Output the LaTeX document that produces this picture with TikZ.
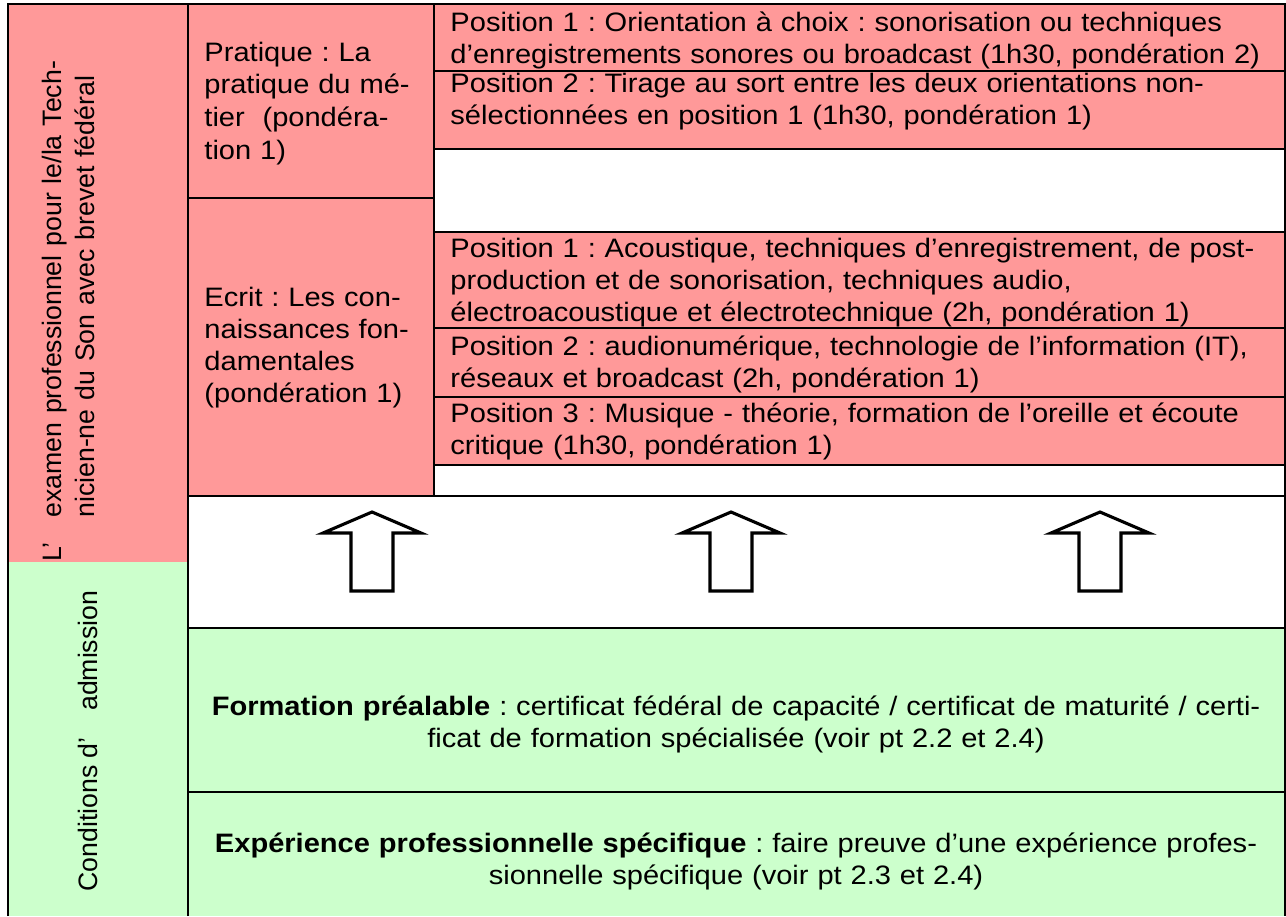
\documentclass[tikz,border=0pt]{standalone}
\usepackage{fontspec}
\setmainfont{Liberation Sans}[FakeStretch=1.09]
\newfontfamily\sidefont{Liberation Sans}
\definecolor{examred}{HTML}{FF9999}
\definecolor{admgreen}{HTML}{CCFFCC}
\frenchspacing
\begin{document}
\begin{tikzpicture}[x=0.45pt,y=-0.45pt,
  font=\fontsize{12}{14.4}\selectfont,
  frame/.style={line width=0.6pt},
  redcell/.style={frame,fill=examred},
  greencell/.style={frame,fill=admgreen},
  rowtext/.style={anchor=base west,inner sep=0pt,align=left,text width=390pt},
  bigarrow/.style={line width=1.4pt,fill=white,miter limit=10}]
\useasboundingbox (0,0) rectangle (1286,916);
% left column
\fill[examred] (8,4) rectangle (188,562);
\fill[admgreen] (8,562) rectangle (188,916);
\draw[frame] (8,916) -- (8,4) -- (188,4);
\draw[frame] (188,4) -- (188,916);
% middle column
\draw[redcell] (188,4) rectangle (434,198);
\draw[redcell] (188,198) rectangle (434,496);
% right column
\draw[redcell] (434,4) rectangle (1285,71);
\draw[redcell] (434,71) rectangle (1285,149);
\draw[frame] (434,149) rectangle (1285,232);
\draw[redcell] (434,232) rectangle (1285,328);
\draw[redcell] (434,328) rectangle (1285,397);
\draw[redcell] (434,397) rectangle (1285,465);
\draw[frame] (434,465) rectangle (1285,496);
% lower part
\draw[frame] (188,496) rectangle (1285,628);
\draw[greencell] (188,628) rectangle (1285,792);
\fill[admgreen] (188,792) rectangle (1285,916);
\draw[frame] (188,916) -- (188,792) -- (1285,792) -- (1285,916);
% arrows
\foreach \cx in {372,731,1100}
  \draw[bigarrow] (\cx,512) -- (\cx+49,533) -- (\cx+21,533) -- (\cx+21,591)
    -- (\cx-21,591) -- (\cx-21,533) -- (\cx-49,533) -- cycle;
% texts
\node[rowtext,rotate=90,text width=270pt,font=\sidefont\fontsize{12}{15}\selectfont] (exam) at (61,562)
  {\makebox[19.8pt][l]{L’}examen professionnel pour le/la Tech-\\\hspace*{19.8pt}nicien-ne du Son avec brevet fédéral};
\node[anchor=base west,inner sep=0pt,rotate=90,font=\sidefont\fontsize{12}{14.4}\selectfont] (admission) at (97,892)
  {Conditions d’\hspace{12pt}admission};
\node[rowtext,text width=110pt,font=\fontsize{12}{14.8}\selectfont] (pratique) at (204,61)
  {Pratique : La\\pratique du mé-\\tier~ (pondéra-\\tion 1)};
\node[rowtext,text width=110pt] (ecrit) at (204,306)
  {Ecrit : Les con-\\naissances fon-\\damentales\\(pondération 1)};
\node[rowtext] (prat1) at (450,31)
  {Position 1 : Orientation à choix : sonorisation ou techniques\\d’enregistrements sonores ou broadcast (1h30, pondération 2)};
\node[rowtext] (prat2) at (450,92)
  {Position 2 : Tirage au sort entre les deux orientations non-\\sélectionnées en position 1 (1h30, pondération 1)};
\node[rowtext] (ecrit1) at (450,257)
  {Position 1 : Acoustique, techniques d’enregistrement, de post-\\production et de sonorisation, techniques audio,\\électroacoustique et électrotechnique (2h, pondération 1)};
\node[rowtext] (ecrit2) at (450,355)
  {Position 2 : audionumérique, technologie de l’information (IT),\\réseaux et broadcast (2h, pondération 1)};
\node[rowtext] (ecrit3) at (450,422)
  {Position 3 : Musique - théorie, formation de l’oreille et écoute\\critique (1h30, pondération 1)};
\node[anchor=base,inner sep=0pt,align=center,text width=492pt] (formation) at (736,715)
  {\textbf{Formation préalable} : certificat fédéral de capacité / certificat de maturité / certi-\\ficat de formation spécialisée (voir pt 2.2 et 2.4)};
\node[anchor=base,inner sep=0pt,align=center,text width=492pt] (experience) at (736,852)
  {\textbf{Expérience professionnelle spécifique} : faire preuve d’une expérience profes-\\sionnelle spécifique (voir pt 2.3 et 2.4)};
\end{tikzpicture}
\end{document}
